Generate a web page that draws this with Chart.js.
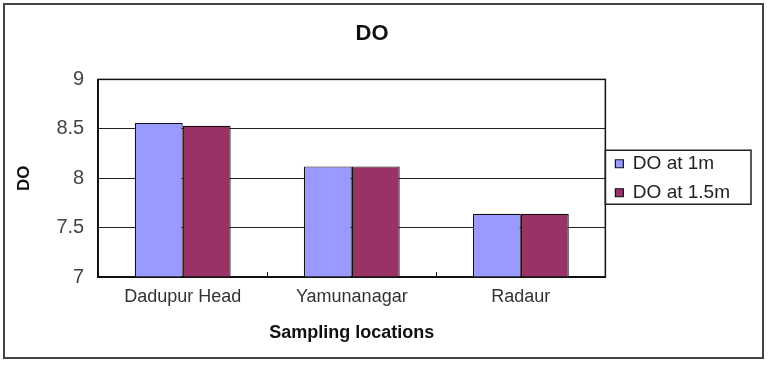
<!DOCTYPE html>
<html lang="en">
<head>
    <meta charset="UTF-8">
    <title>DO</title>
    <script src="https://cdn.jsdelivr.net/npm/chart.js"></script>
    <style>
        body { margin: 0; background: #fff; }
        #wrap { width: 768px; height: 368px; }
    </style>
</head>
<body>
    <div id="wrap"><canvas id="doChart" width="768" height="368"></canvas></div>

    <script>
        // values
        var locations = ['Dadupur Head', 'Yamunanagar', 'Radaur'];
        var doAt1m = [8.56, 8.12, 7.64];
        var doAt15m = [8.53, 8.12, 7.64];
        var seriesNames = ['DO at 1m', 'DO at 1.5m'];

        var fontFamily = "Arial, 'Liberation Sans', sans-serif";

        // white page, outer frame, plot frame and legend frame
        var framePlugin = {
            id: 'frames',
            beforeDraw: function(chart) {
                var c = chart.ctx;
                c.save();
                c.fillStyle = '#fff';
                c.fillRect(0, 0, chart.width, chart.height);
                c.strokeStyle = '#444';
                c.lineWidth = 2;
                c.strokeRect(4, 4, 759, 354);
                c.restore();
            },
            afterDraw: function(chart) {
                var c = chart.ctx;
                var a = chart.chartArea;
                c.save();
                c.strokeStyle = '#111';
                c.lineWidth = 1.5;
                c.strokeRect(a.left, a.top, a.right - a.left, a.bottom - a.top);

                var boxes = chart.legend.legendHitBoxes;
                if (boxes && boxes.length) {
                    var l = Math.min.apply(null, boxes.map(b => b.left));
                    var r = Math.max.apply(null, boxes.map(b => b.left + b.width));
                    var t = boxes[0].top;
                    var b = boxes[boxes.length - 1].top + boxes[boxes.length - 1].height;
                    c.strokeStyle = '#222';
                    c.lineWidth = 1.5;
                    c.strokeRect(l - 10, t - 4, r - l + 31, b - t + 6);
                }
                c.restore();
            }
        };

        var ctx = document.getElementById('doChart').getContext('2d');
        var doChart = new Chart(ctx, {
            type: 'bar',
            data: {
                labels: locations,
                datasets: [{
                    label: seriesNames[0],
                    data: doAt1m,
                    backgroundColor: '#9999FF',
                    borderColor: '#111',
                    borderWidth: 1.2,
                    borderSkipped: false
                }, {
                    label: seriesNames[1],
                    data: doAt15m,
                    backgroundColor: '#993366',
                    borderColor: '#111',
                    borderWidth: 1.2,
                    borderSkipped: false
                }]
            },
            options: {
                responsive: false,
                animation: false,
                devicePixelRatio: 1,
                layout: { padding: { top: 10, left: 4, right: 28, bottom: 5 } },
                datasets: {
                    bar: { categoryPercentage: 0.567, barPercentage: 1.0 }
                },
                plugins: {
                    title: {
                        display: true,
                        text: 'DO',
                        color: '#111',
                        font: { family: fontFamily, size: 22, weight: 'bold' },
                        padding: { top: 11, bottom: 32 }
                    },
                    legend: {
                        position: 'right',
                        fullSize: false,
                        labels: {
                            boxWidth: 8,
                            boxHeight: 8,
                            padding: 10,
                            color: '#222',
                            font: { family: fontFamily, size: 19 }
                        }
                    },
                    tooltip: { enabled: false }
                },
                scales: {
                    x: {
                        grid: {
                            display: true,
                            drawOnChartArea: false,
                            offset: true,
                            tickLength: -5,
                            color: '#111'
                        },
                        border: { display: true, color: '#111', width: 1.5 },
                        ticks: {
                            color: '#333',
                            padding: 14,
                            font: { family: fontFamily, size: 18 }
                        },
                        title: {
                            display: true,
                            text: 'Sampling locations',
                            color: '#111',
                            font: { family: fontFamily, size: 18, weight: 'bold' },
                            padding: { top: 1, bottom: 18.7 }
                        }
                    },
                    y: {
                        min: 7,
                        max: 9,
                        grid: { color: '#222', lineWidth: 1, drawTicks: false },
                        border: { display: true, color: '#111', width: 1.5 },
                        ticks: {
                            stepSize: 0.5,
                            color: '#444',
                            padding: 14,
                            font: { family: fontFamily, size: 20 },
                            callback: function(v) { return String(v); }
                        },
                        title: {
                            display: true,
                            text: 'DO',
                            color: '#111',
                            font: { family: fontFamily, size: 17, weight: 'bold' },
                            padding: { top: 10, bottom: 8 }
                        }
                    }
                }
            },
            plugins: [framePlugin]
        });
    </script>
</body>
</html>
